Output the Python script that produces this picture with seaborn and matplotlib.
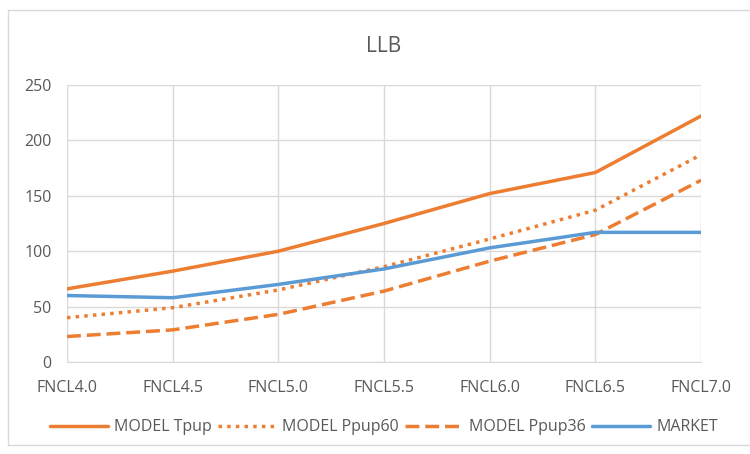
import pandas as pd
import matplotlib.pyplot as plt
import seaborn as sns
from matplotlib.lines import Line2D

# Data
categories = ["FNCL4.0", "FNCL4.5", "FNCL5.0", "FNCL5.5", "FNCL6.0", "FNCL6.5", "FNCL7.0"]
model_tpup = [66, 82, 100, 125, 152, 171, 222]
model_ppup60 = [40, 49, 65, 86, 111, 137, 187]
model_ppup36 = [23, 29, 43, 64, 91, 115, 164]
market = [60, 58, 70, 84, 103, 117, 117]

series_names = ["MODEL Tpup", "MODEL Ppup60", "MODEL Ppup36", "MARKET"]
series_values = [model_tpup, model_ppup60, model_ppup36, market]

orange = "#ED7D31"
blue = "#5B9BD5"
text_gray = "#595959"

sns.set_style("white")
plt.rcParams["font.family"] = ["Open Sans", "DejaVu Sans"]

fig = plt.figure(figsize=(7.5, 4.54), dpi=100)
ax = fig.add_axes([67 / 750, 1 - 362 / 454, (701 - 67) / 750, (362 - 85) / 454])

styles = {
    "MODEL Tpup": dict(color=orange, linestyle="-"),
    "MODEL Ppup60": dict(color=orange, linestyle=(0, (1.0, 1.5)), dash_capstyle="butt"),
    "MODEL Ppup36": dict(color=orange, linestyle=(0, (4, 1.7))),
    "MARKET": dict(color=blue, linestyle="-"),
}

for name, vals in zip(series_names, series_values):
    df = pd.DataFrame({"x": range(len(categories)), "y": vals})
    sns.lineplot(data=df, x="x", y="y", ax=ax, label=name, linewidth=2.5, **styles[name])

ax.set_xlim(0, len(categories) - 1)
ax.set_ylim(0, 250)
ax.set_yticks(range(0, 251, 50))
ax.set_xticks(range(len(categories)))
ax.set_xticklabels(categories)
ax.set_xlabel("")
ax.set_ylabel("")

ax.grid(True, color="#D9D9D9", linewidth=1)
ax.set_axisbelow(True)
for s in ["top", "right", "left"]:
    ax.spines[s].set_visible(False)
ax.spines["bottom"].set_color("#D9D9D9")
ax.tick_params(axis="both", length=0, labelsize=11.5, colors=text_gray)
ax.tick_params(axis="x", pad=13)
ax.tick_params(axis="y", pad=11)

ax.set_title("LLB", fontsize=15, color=text_gray, pad=24)

leg = ax.legend(loc="center", bbox_to_anchor=(0.5, -0.235), ncol=4, frameon=False,
                fontsize=11.5, handlelength=3.6, columnspacing=0.4, handletextpad=0.4)
for t in leg.get_texts():
    t.set_color(text_gray)

# chart area border (partially visible in the reference)
fig.add_artist(Line2D([8 / 750, 8 / 750], [9 / 454, 1 - 10 / 454], color="#D9D9D9", linewidth=1))
fig.add_artist(Line2D([8 / 750, 1], [9 / 454, 9 / 454], color="#D9D9D9", linewidth=1))
fig.add_artist(Line2D([8 / 750, 1], [1 - 10 / 454, 1 - 10 / 454], color="#D9D9D9", linewidth=1))

fig.savefig("out.png", dpi=100)
